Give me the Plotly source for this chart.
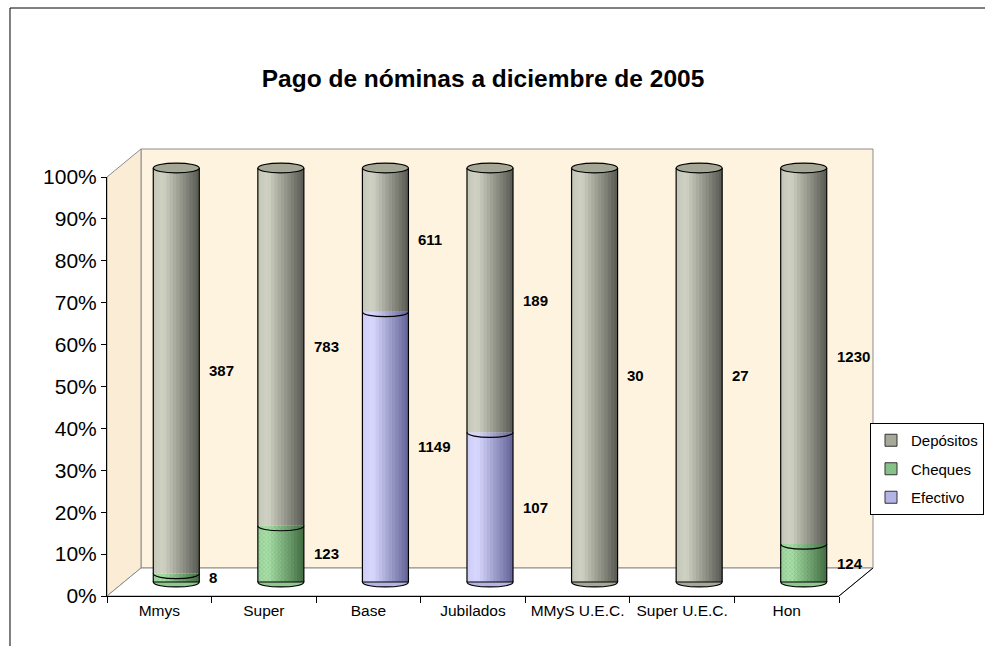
import plotly.graph_objects as go

# ---------------- data ----------------
categories = ["Mmys", "Super", "Base", "Jubilados", "MMyS U.E.C.", "Super U.E.C.", "Hon"]
efectivo = [0, 0, 1149, 107, 0, 0, 0]
cheques = [8, 123, 0, 0, 0, 0, 124]
depositos = [387, 783, 611, 189, 30, 27, 1230]
series_names = ["Efectivo", "Cheques", "Depósitos"]
title_text = "Pago de nóminas a diciembre de 2005"

# ---------------- styling / geometry ----------------
FW, FH = 985, 646
FONT = "Liberation Sans, Arial, sans-serif"


def px(x):
    return x / FW


def py(y):
    return 1 - y / FH


BAR_W = 0.44
N_STRIPES = 14
colors = {
    "Efectivo": ((216, 216, 255), (98, 98, 150)),
    "Cheques": ((170, 226, 170), (66, 108, 66)),
    "Depósitos": ((208, 210, 195), (88, 89, 82)),
}
mid_colors = {"Efectivo": "#B4B4E6", "Cheques": "#8FC88F", "Depósitos": "#A6A898"}


def profile(t):
    # cylinder shading: bright near the left, dark on the right
    if t < 0.22:
        return 0.9 + 0.1 * (t / 0.22)
    return 1.0 - (t - 0.22) / 0.78


def mix(light, dark, f):
    return "rgb(%d,%d,%d)" % tuple(round(d + (l - d) * f) for l, d in zip(light, dark))


positions = list(range(len(categories)))
values = {"Efectivo": efectivo, "Cheques": cheques, "Depósitos": depositos}
totals = [a + b + c for a, b, c in zip(efectivo, cheques, depositos)]
pct = {}
base = {}
cum = [0.0] * len(categories)
for name in series_names:
    p = [v / t for v, t in zip(values[name], totals)]
    pct[name] = p
    base[name] = cum[:]
    cum = [c + q for c, q in zip(cum, p)]

fig = go.Figure()

# legend entries
for name in ["Depósitos", "Cheques", "Efectivo"]:
    mk = dict(color=mid_colors[name], line=dict(color="#333333", width=1))
    if name == "Cheques":
        mk["pattern"] = dict(shape="x", size=3, solidity=0.3, fgcolor="rgba(40,100,40,0.6)")
    fig.add_trace(go.Bar(x=positions, y=[None] * len(categories), name=name,
                         marker=mk, xaxis="x2", yaxis="y2", legendgroup=name))

# invisible trace for the front category axis
fig.add_trace(go.Scatter(x=categories, y=[0] * len(categories), mode="markers",
                         marker=dict(opacity=0), showlegend=False, hoverinfo="skip",
                         xaxis="x", yaxis="y"))

sw = BAR_W / N_STRIPES
for name in series_names:
    light, dark = colors[name]
    yv = [p if p > 0 else None for p in pct[name]]
    for k in range(N_STRIPES):
        t = (k + 0.5) / N_STRIPES
        mk = dict(color=mix(light, dark, profile(t)), line=dict(width=0))
        if name == "Cheques":
            mk["pattern"] = dict(shape="x", size=3, solidity=0.3, fgcolor="rgba(40,100,40,0.45)")
        w = sw * 1.25 if k < N_STRIPES - 1 else sw
        fig.add_trace(go.Bar(x=positions, y=yv, base=base[name], width=w,
                             offset=-BAR_W / 2 + k * sw, marker=mk,
                             showlegend=False, hoverinfo="skip",
                             xaxis="x2", yaxis="y2"))

# vertical cylinder edges
ex, ey = [], []
for i, tot in zip(positions, cum):
    for s in (-1, 1):
        ex += [i + s * BAR_W / 2, i + s * BAR_W / 2, None]
        ey += [0, tot, None]
fig.add_trace(go.Scatter(x=ex, y=ey, mode="lines", line=dict(color="black", width=1.2),
                         showlegend=False, hoverinfo="skip", xaxis="x2", yaxis="y2"))

# data labels
annotations = []
for name in series_names:
    for i, v in enumerate(values[name]):
        if v > 0:
            annotations.append(dict(
                x=i + BAR_W / 2 + 0.075, y=base[name][i] + pct[name][i] / 2,
                xref="x2", yref="y2", text="<b>%d</b>" % v, showarrow=False,
                xanchor="left", yanchor="middle",
                font=dict(family=FONT, size=15, color="black")))

# walls and floor (decoration)
shapes = []
shapes.append(dict(type="path", xref="paper", yref="paper",
                   path="M %f %f L %f %f L %f %f" % (px(10), -0.1, px(10), py(8), 1.1, py(8)),
                   line=dict(color="black", width=1), layer="below"))
shapes.append(dict(type="rect", xref="paper", yref="paper",
                   x0=px(141), x1=px(873), y0=py(568), y1=py(149),
                   line=dict(color="#8C8C8C", width=1), fillcolor="#FDF3DF", layer="below"))
shapes.append(dict(type="path", xref="paper", yref="paper",
                   path="M %f %f L %f %f L %f %f L %f %f Z" % (
                       px(107), py(596), px(107), py(177), px(141), py(149), px(141), py(568)),
                   line=dict(color="#8C8C8C", width=1), fillcolor="#FBEDD5", layer="below"))
shapes.append(dict(type="path", xref="paper", yref="paper",
                   path="M %f %f L %f %f L %f %f L %f %f Z" % (
                       px(107), py(596), px(839), py(596), px(873), py(568), px(141), py(568)),
                   line=dict(color="#8C8C8C", width=1), fillcolor="white", layer="below"))
shapes.append(dict(type="line", xref="paper", yref="paper",
                   x0=px(839), y0=py(596), x1=px(873), y1=py(568),
                   line=dict(color="black", width=1), layer="below"))

# cylinder bottoms, segment boundaries and tops
cap_h = 0.012
kk = cap_h * 4 / 3
for i in positions:
    x0, x1 = i - BAR_W / 2, i + BAR_W / 2
    first = next(n for n in series_names if values[n][i] > 0)
    shapes.append(dict(type="path", xref="x2", yref="y2",
                       path="M %f,0 C %f,%f %f,%f %f,0 Z" % (x0, x0, -kk, x1, -kk, x1),
                       fillcolor=mid_colors[first], line=dict(color="black", width=1.2),
                       layer="above"))
    for name in series_names[1:]:
        b = base[name][i]
        if values[name][i] > 0 and b > 0:
            shapes.append(dict(type="path", xref="x2", yref="y2",
                               path="M %f,%f C %f,%f %f,%f %f,%f" % (
                                   x0, b, x0, b - kk, x1, b - kk, x1, b),
                               line=dict(color="black", width=1.2), layer="above"))
    shapes.append(dict(type="circle", xref="x2", yref="y2",
                       x0=x0, x1=x1, y0=cum[i] - cap_h, y1=cum[i] + cap_h,
                       fillcolor="#A4A696", line=dict(color="black", width=1.2),
                       layer="above"))

# bar axis: 0 at y=582px, 1 at y=168px, with room for the caps
y2_lo, y2_hi = -0.04, 1.04
unit = 582 - 168
fig.update_layout(
    width=FW, height=FH,
    margin=dict(l=0, r=0, t=0, b=0),
    paper_bgcolor="white", plot_bgcolor="rgba(0,0,0,0)",
    barmode="overlay",
    font=dict(family=FONT, color="black"),
    title=dict(text="<b>%s</b>" % title_text, x=483 / FW, xanchor="center",
               y=py(78), yanchor="middle", font=dict(family=FONT, size=24.5, color="black")),
    xaxis=dict(domain=[px(107), px(839)], type="category", range=[-0.5, 6.5],
               categoryorder="array", categoryarray=categories,
               tickson="boundaries", ticks="outside", ticklen=6, tickcolor="black",
               showline=True, linecolor="black", linewidth=1, showgrid=False,
               tickfont=dict(size=15.5), anchor="y", fixedrange=True, automargin=False),
    yaxis=dict(domain=[py(596), py(177)], range=[0, 1], dtick=0.1, tickformat=".0%",
               ticks="outside", ticklen=5, tickcolor="black", showline=True,
               linecolor="black", linewidth=1, showgrid=False, zeroline=False,
               tickfont=dict(size=21), anchor="x", fixedrange=True, automargin=False),
    xaxis2=dict(domain=[px(124), px(856)], type="linear", range=[-0.5, 6.5],
                visible=False, anchor="y2", fixedrange=True),
    yaxis2=dict(domain=[py(582 - y2_lo * unit), py(168 - (y2_hi - 1) * unit)],
                range=[y2_lo, y2_hi], visible=False, anchor="x2", fixedrange=True),
    legend=dict(x=px(870), xanchor="left", y=py(423), yanchor="top",
                bgcolor="white", bordercolor="black", borderwidth=1,
                font=dict(family=FONT, size=15), traceorder="grouped",
                tracegroupgap=6, itemclick=False, itemdoubleclick=False),
    shapes=shapes,
    annotations=annotations,
    showlegend=True,
)

fig.write_html("out.html", config={"displayModeBar": False},
               post_script="document.body.style.margin='0px';"
                           "document.body.style.overflow='hidden';"
                           "document.documentElement.style.overflow='hidden';")
